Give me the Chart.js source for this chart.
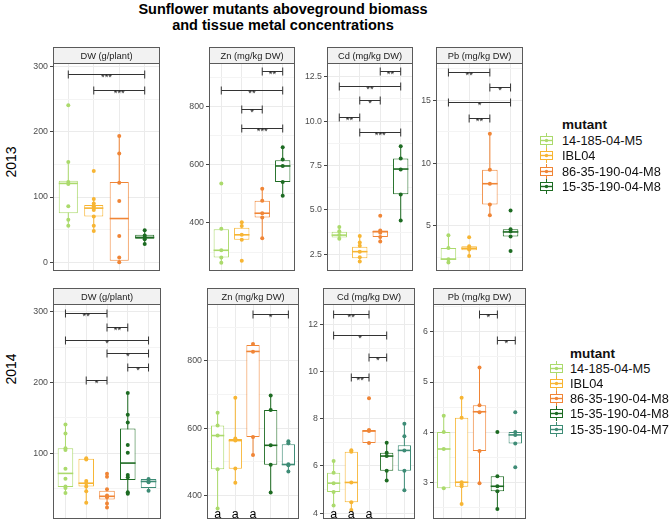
<!DOCTYPE html>
<html>
<head>
<meta charset="utf-8">
<script src="https://cdn.jsdelivr.net/npm/chart.js@4.4.1/dist/chart.umd.min.js"></script>
<style>
  body { margin: 0; width: 670px; height: 525px; position: relative; overflow: hidden; background: #fff;
         font-family: "Liberation Sans", Arial, sans-serif; color: #000; }
  canvas { position: absolute; }
  .title { position: absolute; left: 0; top: 2px; width: 566px; text-align: center; font-weight: bold;
           font-size: 14.5px; line-height: 15.5px; }
  .row { position: absolute; font-size: 14px; transform: translate(-50%, -50%) rotate(-90deg); white-space: nowrap; }
  .leg { position: absolute; font-size: 12.8px; line-height: 15px; white-space: nowrap; color: #111; }
  .leg.head { font-weight: bold; font-size: 13.5px; }
  .key { position: absolute; }
</style>
</head>
<body>
<div class="title">Sunflower mutants aboveground biomass<br>and tissue metal concentrations</div>
<div class="row" style="left:11px;top:162px">2013</div>
<div class="row" style="left:11px;top:369px">2014</div>
<script>
/* ~~~~~~~~~~ DATA ~~~~~~~~~~*/
const groupNames = ['14-185-04-M5', 'IBL04', '86-35-190-04-M8', '15-35-190-04-M8', '15-35-190-04-M7'];
const groupColors = ['#ABDA6C', '#F7B533', '#F08536', '#1D6B22', '#3E8C76'];

// box stats per mutant: [lower whisker, q1, median, q3, upper whisker]
// significance brackets: [from group, to group, y value, label]

// 2013
const dw13Box = [[56, 75, 121, 125, 154], [48, 70, 83, 88, 97], [0, 2, 67, 123, 194], [28, 36, 38, 42, 49]];
const dw13Pts = [[241, 154, 123, 120, 86, 65, 56], [140, 97, 90, 86, 83, 80, 70, 56, 48], [194, 167, 122, 94, 40, 7, 0], [49, 41, 38, 35, 28]];
const dw13Sig = [[0, 3, 289, '***'], [1, 3, 264, '***']];
const dw13Ticks = ['0', '100', '200', '300'];

const zn13Box = [[263, 281, 306, 378, 380], [342, 342, 359, 383, 402], [347, 418, 433, 476, 517], [493, 540, 595, 615, 659]];
const zn13Pts = [[535, 380, 306, 281, 263], [402, 389, 359, 342, 270], [517, 476, 433, 418, 347], [659, 617, 595, 540, 493]];
const zn13Sig = [[2, 3, 922, '**'], [0, 3, 856, '**'], [1, 2, 790, '*'], [1, 3, 724, '***']];
const zn13Ticks = ['400', '600', '800'];

const cd13Box = [[3.38, 3.44, 3.58, 3.77, 4.04], [2.1, 2.28, 2.65, 2.92, 3.53], [3.22, 3.47, 3.77, 3.84, 3.84], [4.41, 5.88, 7.3, 7.89, 8.58]];
const cd13Pts = [[4.04, 3.8, 3.58, 3.38], [3.53, 3.16, 2.98, 2.65, 2.33, 2.1], [4.67, 3.84, 3.71, 3.47, 3.22], [8.58, 7.89, 7.28, 5.86, 4.41]];
const cd13Sig = [[2, 3, 12.81, '**'], [0, 3, 11.99, '**'], [1, 2, 11.16, '*'], [0, 1, 10.24, '**'], [1, 3, 9.41, '***']];
const cd13Ticks = ['2.5', '5.0', '7.5', '10.0', '12.5'];

const pb13Box = [[2.08, 2.3, 2.36, 3.25, 4.26], [2.6, 3.07, 3.22, 3.38, 3.38], [5.84, 6.7, 8.36, 9.48, 12.34], [4.16, 4.16, 4.52, 4.73, 4.73]];
const pb13Pts = [[4.26, 3.25, 2.34, 2.08], [4.1, 3.38, 3.22, 3.12, 2.6], [12.34, 9.48, 8.36, 6.7, 5.84], [6.23, 4.73, 4.55, 4.16, 3.0]];
const pb13Sig = [[0, 2, 17.27, '**'], [2, 3, 16.03, '*'], [0, 3, 14.86, '*'], [1, 2, 13.58, '**']];
const pb13Ticks = ['5', '10', '15'];

// 2014
const dw14Box = [[43.6, 52, 71.4, 107, 140.6], [29.8, 53, 57.5, 92, 93], [23, 34.4, 39, 47, 49], [42.7, 62, 86, 135, 185], [47, 50.6, 60, 63.5, 63.5]];
const dw14Pts = [[140.6, 128, 107, 104.6, 78, 64, 53, 50.6, 43.6], [93, 91, 60.7, 57.5, 53, 46, 29.8], [71, 66.7, 49, 40, 37.6, 29, 23],
                 [185, 154.5, 143.4, 111.5, 100.5, 69, 65.8, 44.6, 42.7], [63.5, 60.3, 59, 47]];
const dw14Sig = [[0, 2, 297.7, '**'], [2, 3, 278, '**'], [0, 4, 260.7, '*'], [2, 4, 241, '*'], [3, 4, 222, '*'], [1, 2, 204, '*']];
const dw14Ticks = ['100', '200', '300'];

const zn14Box = [[361, 478, 578, 608, 646], [438, 479, 563, 568, 690], [520, 574, 828, 847, 850], [409, 491, 549, 654, 697], [471, 490, 492, 552, 561]];
const zn14Pts = [[646, 608, 578, 478, 361], [690, 569, 563, 480, 438], [850, 827, 574, 520], [697, 654, 549, 491, 409], [561, 555, 493, 490, 471]];
const zn14Sig = [[2, 4, 939, '*']];
const zn14Ticks = ['400', '600', '800'];
const zn14Letters = ['a', 'a', 'a', '', ''];

const cd14Box = [[4.32, 4.9, 5.27, 5.71, 6.21], [4.13, 4.46, 5.3, 6.6, 6.67], [6.97, 6.97, 7.48, 7.52, 7.52], [5.38, 5.8, 6.42, 6.56, 6.98], [4.97, 5.8, 6.66, 6.88, 7.79]];
const cd14Pts = [[6.21, 5.71, 5.27, 4.9, 4.32], [6.67, 6.6, 5.3, 4.46, 4.13], [8.87, 7.52, 7.48, 6.97], [6.98, 6.56, 6.42, 5.8, 5.38], [7.79, 7.26, 6.66, 5.8, 4.97]];
const cd14Sig = [[0, 2, 12.46, '**'], [0, 3, 11.55, '*'], [2, 3, 10.62, '*'], [1, 2, 9.78, '**']];
const cd14Ticks = ['4', '6', '8', '10', '12'];
const cd14Letters = ['a', 'a', 'a', '', ''];

const pb14Box = [[2.89, 2.89, 3.67, 4.01, 4.33], [2.58, 2.92, 3.01, 4.29, 4.69], [2.99, 3.63, 4.41, 4.54, 5.29], [2.48, 2.83, 2.93, 3.13, 3.13], [3.78, 3.78, 3.95, 4.01, 4.01]];
const pb14Pts = [[4.33, 4.01, 3.67, 2.89], [4.69, 4.29, 3.01, 2.97, 2.93, 2.58], [5.29, 4.54, 4.4, 3.63, 2.99], [4.01, 3.13, 2.93, 2.83, 2.48], [4.4, 4.01, 3.95, 3.78, 3.31]];
const pb14Sig = [[2, 3, 6.35, '*'], [3, 4, 5.83, '*']];
const pb14Ticks = ['3', '4', '5', '6'];

/* ~~~~~~~~~~ PANELS ~~~~~~~~~~*/
const panels = [
  { name: 'DW (g/plant)',  box: dw13Box, pts: dw13Pts, sig: dw13Sig, ticks: dw13Ticks, min: -13.6, max: 306,   left: 53,  right: 164, top: 47,  bottom: 275 },
  { name: 'Zn (mg/kg DW)', box: zn13Box, pts: zn13Pts, sig: zn13Sig, ticks: zn13Ticks, min: 235,   max: 948,   left: 209, right: 299, top: 47,  bottom: 275 },
  { name: 'Cd (mg/kg DW)', box: cd13Box, pts: cd13Pts, sig: cd13Sig, ticks: cd13Ticks, min: 1.56,  max: 13.27, left: 327, right: 417, top: 47,  bottom: 275 },
  { name: 'Pb (mg/kg DW)', box: pb13Box, pts: pb13Pts, sig: pb13Sig, ticks: pb13Ticks, min: 1.41,  max: 17.97, left: 436, right: 527, top: 47,  bottom: 275 },
  { name: 'DW (g/plant)',  box: dw14Box, pts: dw14Pts, sig: dw14Sig, ticks: dw14Ticks, min: 6.9,   max: 311,   left: 53,  right: 165, top: 288, bottom: 523 },
  { name: 'Zn (mg/kg DW)', box: zn14Box, pts: zn14Pts, sig: zn14Sig, ticks: zn14Ticks, min: 330,   max: 969,   left: 207, right: 303, top: 288, bottom: 523, letters: zn14Letters },
  { name: 'Cd (mg/kg DW)', box: cd14Box, pts: cd14Pts, sig: cd14Sig, ticks: cd14Ticks, min: 3.75,  max: 12.87, left: 323, right: 419, top: 288, bottom: 523, letters: cd14Letters },
  { name: 'Pb (mg/kg DW)', box: pb14Box, pts: pb14Pts, sig: pb14Sig, ticks: pb14Ticks, min: 2.28,  max: 6.55,  left: 433, right: 530, top: 288, bottom: 523 }
];

const AXIS_W = 40;
const STRIP_H = 16;
const FONT = '"Liberation Sans", Arial, sans-serif';

const makePanel = (p) => {
  const cv = document.createElement('canvas');
  const w = p.right - p.left + AXIS_W;
  const h = p.bottom - p.top;
  cv.width = w; cv.height = h;
  cv.style.left = (p.left - AXIS_W) + 'px';
  cv.style.top = p.top + 'px';
  document.body.appendChild(cv);

  const n = p.box.length;
  const colors = groupColors.slice(0, n);
  const majors = p.ticks.map(Number);
  const half = (majors[1] - majors[0]) / 2;
  const gridVals = [];
  majors.forEach(v => gridVals.push(v - half, v));
  gridVals.push(majors[majors.length - 1] + half);
  const yTicks = gridVals.filter(v => v >= p.min && v <= p.max);
  const majorIdx = v => majors.findIndex(m => Math.abs(m - v) < 1e-9);

  const whiskers = p.box.map((b, i) => ({ x: i, y: [b[0], b[4]] }));
  const boxes = p.box.map((b, i) => ({ x: i, y: [b[1], b[3]] }));
  const points = [];
  const pointColors = [];
  p.pts.forEach((arr, i) => arr.forEach(v => { points.push({ x: i, y: v }); pointColors.push(groupColors[i]); }));

  const facet = {
    id: 'facet',
    afterDatasetDraw(chart, args) {
      if (args.index !== 1) return;
      const ctx = chart.ctx;
      const ys = chart.scales.y;
      args.meta.data.forEach((bar, i) => {
        const py = ys.getPixelForValue(p.box[i][2]);
        ctx.save();
        ctx.strokeStyle = groupColors[i];
        ctx.lineWidth = 1.6;
        ctx.beginPath();
        ctx.moveTo(bar.x - bar.width / 2, py);
        ctx.lineTo(bar.x + bar.width / 2, py);
        ctx.stroke();
        ctx.restore();
      });
    },
    afterDraw(chart) {
      const ctx = chart.ctx;
      const { left, right, top, bottom } = chart.chartArea;
      const xs = chart.scales.x, ys = chart.scales.y;
      ctx.save();
      // strip
      ctx.fillStyle = '#F2F2F2';
      ctx.fillRect(left, 0, right - left, STRIP_H);
      ctx.strokeStyle = '#5A5A5A';
      ctx.lineWidth = 1;
      ctx.strokeRect(left + 0.5, 0.5, right - left - 1, STRIP_H);
      ctx.fillStyle = '#1A1A1A';
      ctx.font = '9.3px ' + FONT;
      ctx.textAlign = 'center';
      ctx.textBaseline = 'middle';
      ctx.fillText(p.name, (left + right) / 2, STRIP_H / 2 + 1);
      // panel border
      ctx.strokeRect(left + 0.5, Math.round(top) + 0.5, right - left - 1, Math.round(bottom - top) - 1);
      // significance brackets
      ctx.strokeStyle = '#333';
      ctx.fillStyle = '#222';
      ctx.font = '9.5px ' + FONT;
      ctx.textBaseline = 'alphabetic';
      p.sig.forEach(([a, b, v, lab]) => {
        const x1 = xs.getPixelForValue(a), x2 = xs.getPixelForValue(b);
        const yy = Math.round(ys.getPixelForValue(v)) + 0.5;
        ctx.beginPath();
        ctx.moveTo(x1, yy); ctx.lineTo(x2, yy);
        ctx.moveTo(x1, yy - 4); ctx.lineTo(x1, yy + 4);
        ctx.moveTo(x2, yy - 4); ctx.lineTo(x2, yy + 4);
        ctx.stroke();
        ctx.fillText(lab, (x1 + x2) / 2, yy + 5);
      });
      // letters
      if (p.letters) {
        ctx.fillStyle = '#000';
        ctx.font = '12.5px ' + FONT;
        p.letters.forEach((l, i) => { if (l) ctx.fillText(l, xs.getPixelForValue(i), bottom - 1.5); });
      }
      ctx.restore();
    }
  };

  new Chart(cv, {
    type: 'bar',
    data: {
      datasets: [
        { type: 'bar', data: whiskers, backgroundColor: colors, borderWidth: 0, barThickness: 1,
          grouped: false, inflateAmount: 0, order: 3 },
        { type: 'bar', data: boxes, backgroundColor: '#fff', borderColor: colors, borderWidth: 1,
          borderSkipped: false, grouped: false, inflateAmount: 0, categoryPercentage: 1, barPercentage: 0.75, order: 2 },
        { type: 'line', data: points, showLine: false, pointRadius: 2, pointBorderWidth: 0,
          pointBackgroundColor: pointColors, pointBorderColor: pointColors, order: 1 }
      ]
    },
    options: {
      responsive: false,
      animation: false,
      events: [],
      layout: { padding: { top: STRIP_H, left: 0, right: 0, bottom: 0 } },
      plugins: { legend: { display: false }, tooltip: { enabled: false } },
      scales: {
        x: {
          type: 'linear', min: -0.6, max: n - 0.4, offset: false,
          afterBuildTicks: s => { s.ticks = p.box.map((b, i) => ({ value: i })); },
          afterFit: s => { s.height = 0; s.paddingLeft = 0; s.paddingRight = 0; },
          ticks: { display: false },
          grid: { color: '#EBEBEB', drawTicks: false, offset: false },
          border: { display: false }
        },
        y: {
          min: p.min, max: p.max, beginAtZero: false,
          afterBuildTicks: s => { s.ticks = yTicks.map(v => ({ value: v })); },
          afterFit: s => { s.width = AXIS_W; s.paddingTop = 0; s.paddingBottom = 0; },
          ticks: {
            callback: v => { const k = majorIdx(v); return k < 0 ? '' : p.ticks[k]; },
            color: '#4D4D4D', font: { size: 8.8, family: FONT }, padding: 2
          },
          grid: {
            color: c => majorIdx(c.tick.value) < 0 ? '#F4F4F4' : '#EBEBEB',
            tickColor: c => majorIdx(c.tick.value) < 0 ? 'rgba(0,0,0,0)' : '#444',
            tickLength: 3
          },
          border: { display: false }
        }
      }
    },
    plugins: [facet]
  });
};

panels.forEach(makePanel);

/* ~~~~~~~~~~ LEGENDS ~~~~~~~~~~*/
const keySvg = c => `<svg width="13" height="15"><line x1="6.5" y1="0" x2="6.5" y2="15" stroke="${c}"/>` +
  `<rect x="0.5" y="3.5" width="12" height="8" fill="#fff" stroke="${c}"/>` +
  `<line x1="0.5" y1="7.5" x2="12.5" y2="7.5" stroke="${c}" stroke-width="1.4"/>` +
  `<circle cx="6.5" cy="7.5" r="1.7" fill="${c}"/></svg>`;

const buildLegend = (keyX, textX, headY, rowYs, count) => {
  const head = document.createElement('div');
  head.className = 'leg head';
  head.style.left = textX + 'px';
  head.style.top = (headY - 7.5) + 'px';
  head.textContent = 'mutant';
  document.body.appendChild(head);
  for (let i = 0; i < count; i++) {
    const k = document.createElement('div');
    k.className = 'key';
    k.style.left = keyX + 'px';
    k.style.top = (rowYs[i] - 7.5) + 'px';
    k.innerHTML = keySvg(groupColors[i]);
    document.body.appendChild(k);
    const t = document.createElement('div');
    t.className = 'leg';
    t.style.left = textX + 'px';
    t.style.top = (rowYs[i] - 7.5) + 'px';
    t.textContent = groupNames[i];
    document.body.appendChild(t);
  }
};

buildLegend(540, 562, 124, [140, 155, 171, 186], 4);
buildLegend(550, 570, 353, [368, 383, 398, 413, 429], 5);
</script>
</body>
</html>
